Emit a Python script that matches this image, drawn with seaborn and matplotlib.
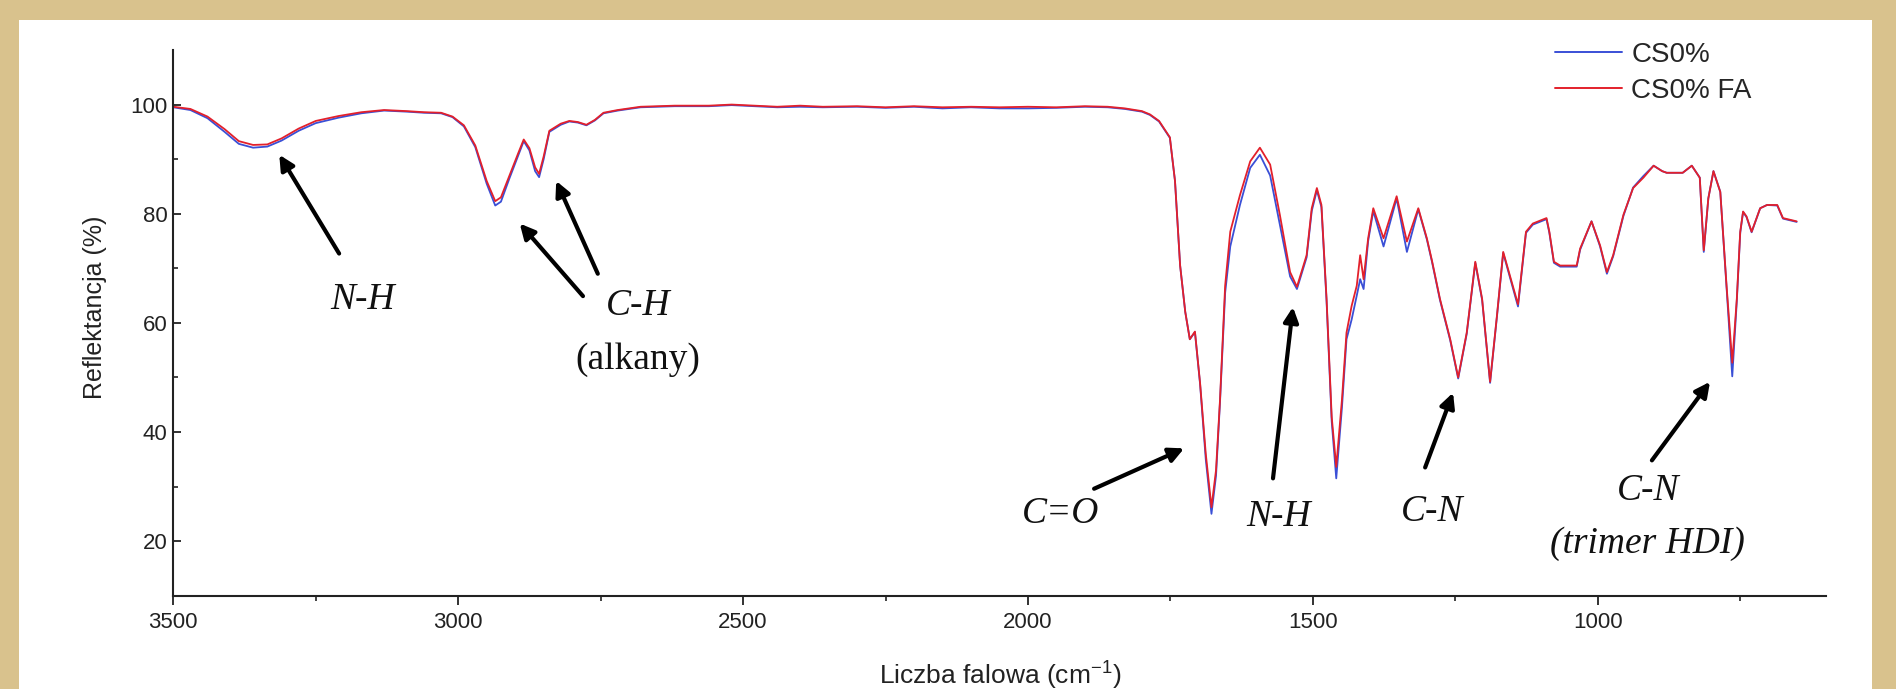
import numpy as np
import pandas as pd
import matplotlib
matplotlib.use("Agg")
import matplotlib.pyplot as plt
from matplotlib.patches import Rectangle
from matplotlib.lines import Line2D
import seaborn as sns

# ---------------- data ----------------
wavenumber = [3500, 3470, 3440, 3410, 3385, 3360, 3335, 3310, 3280, 3250, 3210, 3170, 3130, 3090,
              3060, 3030, 3010, 2990, 2970, 2950, 2935, 2925, 2910, 2895, 2885, 2875, 2865, 2858,
              2850, 2840, 2820, 2805, 2790, 2775, 2760, 2745, 2720, 2680, 2620, 2560, 2520, 2480,
              2440, 2400, 2360, 2300, 2250, 2200, 2150, 2100, 2050, 2000, 1950, 1900, 1860, 1830,
              1800, 1786, 1770, 1751, 1742, 1733, 1724, 1716, 1707, 1698, 1688, 1678, 1670, 1663,
              1654, 1645, 1628, 1610, 1593, 1575, 1558, 1540, 1528, 1511, 1502, 1493, 1485, 1476,
              1467, 1459, 1449, 1441, 1432, 1423, 1417, 1411, 1403, 1394, 1376, 1353, 1335, 1315,
              1300, 1291, 1277, 1259, 1245, 1230, 1215, 1203, 1189, 1177, 1166, 1140, 1126, 1114,
              1090, 1085, 1077, 1066, 1037, 1031, 1011, 996, 984, 973, 955, 938, 920, 902, 887,
              879, 851, 835, 821, 814, 806, 797, 785, 774, 764, 756, 750, 745, 739, 730, 715, 703,
              685, 675, 651]

cs0_fa = [99.6, 99.2, 97.8, 95.5, 93.3, 92.6, 92.7, 93.8, 95.6, 97.0, 97.9, 98.6, 99.0, 98.8,
          98.6, 98.5, 97.8, 96.2, 92.5, 86.0, 82.3, 83.0, 87.0, 91.0, 93.6, 92.0, 88.5, 87.3,
          90.5, 95.2, 96.5, 97.0, 96.8, 96.3, 97.2, 98.5, 99.0, 99.6, 99.8, 99.8, 100.0, 99.8,
          99.6, 99.8, 99.6, 99.7, 99.5, 99.7, 99.5, 99.6, 99.5, 99.6, 99.5, 99.7, 99.6, 99.3,
          98.8, 98.2, 97.0, 94.0, 86.0, 70.5, 62.0, 57.0, 58.4, 49.0, 36.0, 26.2, 33.0, 45.9,
          66.8, 76.7, 83.4, 89.6, 92.1, 89.0, 79.8, 69.3, 66.6, 72.4, 81.0, 84.7, 81.6, 64.4,
          42.8, 33.6, 45.9, 58.2, 63.1, 66.8, 72.4, 68.0, 75.5, 81.0, 75.5, 83.2, 74.9, 81.0,
          75.5, 71.4, 64.4, 57.0, 50.0, 58.2, 71.2, 64.4, 49.2, 61.3, 73.0, 63.4, 76.7, 78.2,
          79.2, 76.7, 71.2, 70.5, 70.5, 73.6, 78.6, 74.2, 69.3, 72.4, 79.8, 84.7, 86.6, 88.8, 87.8,
          87.5, 87.5, 88.8, 86.6, 73.3, 82.8, 87.8, 84.0, 66.8, 52.7, 64.4, 76.7, 80.4, 79.5, 76.7,
          81.0, 81.6, 81.6, 79.2, 78.6]

cs0 = [99.5, 99.0, 97.5, 95.0, 92.8, 92.1, 92.3, 93.4, 95.2, 96.6, 97.6, 98.4, 98.9, 98.7,
       98.5, 98.4, 97.7, 96.0, 92.2, 85.5, 81.5, 82.2, 86.5, 90.6, 93.3, 91.6, 87.8, 86.7,
       90.0, 95.0, 96.3, 96.9, 96.7, 96.2, 97.1, 98.4, 98.9, 99.5, 99.7, 99.7, 99.9, 99.7,
       99.5, 99.6, 99.5, 99.6, 99.4, 99.6, 99.3, 99.5, 99.3, 99.3, 99.4, 99.6, 99.5, 99.2,
       98.7, 98.1, 96.9, 93.9, 86.0, 70.5, 62.0, 57.0, 58.3, 48.8, 35.0, 25.0, 32.0, 45.5,
       65.5, 74.0, 81.6, 88.4, 90.8, 87.0, 78.0, 68.5, 66.2, 72.0, 80.5, 84.3, 81.2, 64.0,
       42.0, 31.5, 44.5, 57.0, 60.6, 65.0, 68.0, 66.2, 75.0, 80.5, 74.0, 82.8, 73.0, 80.8,
       75.3, 71.2, 64.2, 56.8, 49.8, 58.0, 71.0, 64.2, 49.0, 61.1, 72.8, 63.0, 76.5, 78.0,
       79.0, 76.5, 71.0, 70.3, 70.3, 73.4, 78.6, 74.0, 69.0, 72.2, 79.6, 84.8, 86.9, 88.8, 87.8,
       87.5, 87.5, 88.8, 86.6, 73.0, 82.8, 87.8, 84.0, 66.5, 50.2, 64.0, 76.5, 80.3, 79.4, 76.6,
       81.0, 81.6, 81.5, 79.1, 78.5]

series_names = ["CS0%", "CS0% FA"]
series_colors = ["#3a4fd6", "#e3202b"]
x_ticks = [3500, 3000, 2500, 2000, 1500, 1000]
y_ticks = [20, 40, 60, 80, 100]

# annotations: (text, x, y, italic)
labels = [
    ("N-H", 3168, 64.2, True),
    ("C-H", 2684, 63.1, True),
    ("(alkany)", 2684, 53.2, False),
    ("C=O", 1942, 25.0, True),
    ("N-H", 1560, 24.4, True),
    ("C-N", 1291, 25.4, True),
    ("C-N", 912, 29.2, True),
    ("(trimer HDI)", 913, 19.6, True),
]
# arrows: (tail_x, tail_y, head_x, head_y)
arrows = [
    (3209, 72.7, 3314, 90.8),
    (2781, 64.9, 2892, 78.2),
    (2755, 69.0, 2828, 86.0),
    (1884, 29.6, 1726, 37.0),
    (1570, 31.5, 1535, 62.9),
    (1303, 33.5, 1254, 47.2),
    (905, 34.8, 803, 49.2),
]

df = pd.DataFrame({
    "wn": wavenumber * 2,
    "val": cs0 + cs0_fa,
    "series": [series_names[0]] * len(wavenumber) + [series_names[1]] * len(wavenumber),
})

# ---------------- styling ----------------
sns.set_theme(style="ticks")
plt.rcParams["font.family"] = ["Liberation Sans", "DejaVu Sans"]
plt.rcParams["mathtext.fontset"] = "custom"
plt.rcParams["mathtext.rm"] = "Liberation Sans"
plt.rcParams["mathtext.it"] = "Liberation Sans:italic"

W, H = 1896, 689
fig = plt.figure(figsize=(W / 100, H / 100), dpi=100, facecolor="white")

# decorative parchment frame
gold = "#d9c28d"
fig.patches.append(Rectangle((0, 1 - 20 / H), 1, 20 / H, transform=fig.transFigure,
                             facecolor=gold, edgecolor="none", zorder=0))
fig.patches.append(Rectangle((0, 0), 19 / W, 1, transform=fig.transFigure,
                             facecolor=gold, edgecolor="none", zorder=0))
fig.patches.append(Rectangle((1 - 24 / W, 0), 24 / W, 1, transform=fig.transFigure,
                             facecolor=gold, edgecolor="none", zorder=0))

ax_l, ax_r, ax_t, ax_b = 173.3, 1825.7, 50.0, 595.7
ax = fig.add_axes([ax_l / W, 1 - ax_b / H, (ax_r - ax_l) / W, (ax_b - ax_t) / H])
ax.set_facecolor("none")

sns.lineplot(data=df, x="wn", y="val", hue="series", hue_order=series_names,
             palette=dict(zip(series_names, series_colors)), estimator=None,
             linewidth=1.3, ax=ax, legend=False)

ax.set_xlim(3500, 600)
ax.set_ylim(10, 110)
ax.set_xticks(x_ticks)
ax.set_xticks([3250, 2750, 2250, 1750, 1250, 750], minor=True)
ax.set_yticks(y_ticks)
ax.set_yticks([30, 50, 70, 90], minor=True)

for s in ["top", "right"]:
    ax.spines[s].set_visible(False)
for s in ["left", "bottom"]:
    ax.spines[s].set_linewidth(1.5)
    ax.spines[s].set_color("#222222")

ax.tick_params(axis="x", which="major", direction="out", length=6.5, width=1.3,
               labelsize=16, pad=5, colors="#222222")
ax.tick_params(axis="x", which="minor", direction="out", length=3.5, width=1.2, colors="#222222")
ax.tick_params(axis="y", which="major", direction="in", length=6, width=1.3,
               labelsize=16, pad=4, colors="#222222")
ax.tick_params(axis="y", which="minor", direction="in", length=3.5, width=1.2, colors="#222222")

ax.set_xlabel("Liczba falowa (cm$^{-1}$)", fontsize=19, color="#222222", va="center", ha="center")
ax.xaxis.set_label_coords((1000 - ax_l) / (ax_r - ax_l), (ax_b - 676) / (ax_b - ax_t))
ax.set_ylabel("Reflektancja (%)", fontsize=18, color="#222222", va="center", ha="center")
ax.yaxis.set_label_coords((95 - ax_l) / (ax_r - ax_l), (ax_b - 307) / (ax_b - ax_t))

# legend
handles = [Line2D([], [], color=c, lw=1.4) for c in series_colors]
ax.legend(handles, series_names, loc="upper left",
          bbox_to_anchor=(1555 / W, 1 - 42 / H), bbox_transform=fig.transFigure,
          frameon=False, fontsize=20, handlelength=2.4, handletextpad=0.35,
          borderpad=0, borderaxespad=0, labelspacing=0.36)

# annotations
for txt, x, y, it in labels:
    ax.text(x, y, txt, fontsize=27, family=["Liberation Serif", "DejaVu Serif"],
            style="italic" if it else "normal", ha="center", va="center", color="#111111")
for tx, ty, hx, hy in arrows:
    ax.annotate("", xy=(hx, hy), xytext=(tx, ty),
                arrowprops=dict(arrowstyle="-|>", lw=3, color="black", mutation_scale=22,
                                shrinkA=0, shrinkB=0))

fig.savefig("out.png", dpi=100, facecolor=fig.get_facecolor())
